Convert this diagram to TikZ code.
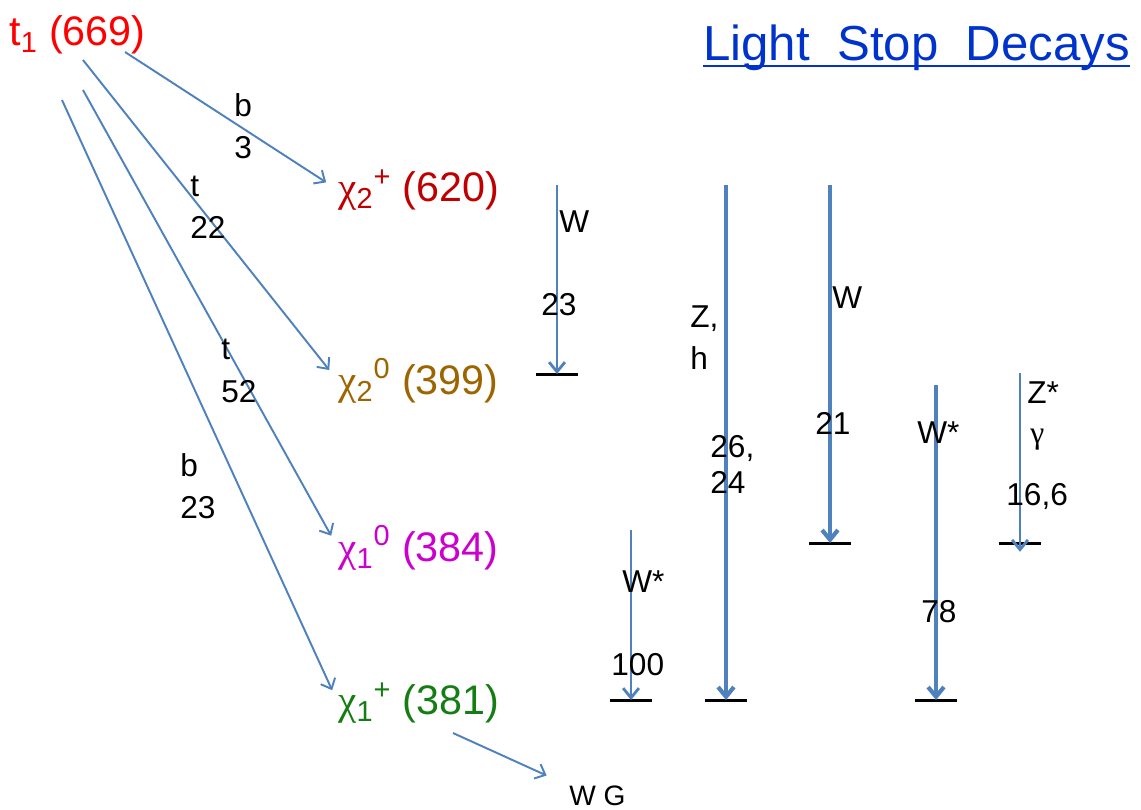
\documentclass[tikz,border=0pt]{standalone}
\usepackage{fontspec}
\setmainfont{Liberation Sans}
\newfontfamily\greekserif{Liberation Serif}
\usetikzlibrary{arrows.meta}

\definecolor{stopred}{RGB}{255,0,0}
\definecolor{charginotwo}{RGB}{192,0,0}
\definecolor{neutralinotwo}{RGB}{156,101,0}
\definecolor{neutralinoone}{RGB}{204,0,204}
\definecolor{charginoone}{RGB}{20,125,20}
\definecolor{decayblue}{RGB}{79,129,189}
\definecolor{titleblue}{RGB}{0,51,204}

\newcommand{\chisym}{{\greekserif χ}}

\begin{document}
\begin{tikzpicture}[
            x=0.02cm, y=-0.02cm,
            particle/.style={anchor=west, inner sep=0pt, font=\fontsize{23.5}{28}\selectfont},
            br/.style={anchor=west, inner sep=0pt, align=left, font=\fontsize{18}{24}\selectfont},
            decay/.style={draw=decayblue, line width=1.1pt, -{Straight Barb[length=5pt,width=9pt]}, shorten >=8pt},
            cascade/.style={draw=decayblue, line width=#1, -{Straight Barb[length=5.5pt,width=9pt]}},
            cascade/.default=2.4pt,
            level/.style={draw, line width=1.7pt}
        ]
            \useasboundingbox (0,0) rectangle (1141,809);

            \node[anchor=base west, inner sep=0pt, text=titleblue, font=\fontsize{28}{32}\selectfont] (title) at (703,60) {Light\ \ Stop\ \ Decays};
            \draw[titleblue, line width=1.2pt] ([yshift=-3.5pt]title.base west) -- ([yshift=-3.5pt]title.base east);

            \node[particle, text=stopred] (stop) at (9,35) {t\textsubscript{1} (669)};
            \node[particle, text=charginotwo] (chiTwoP) at (338,190) {\chisym\textsubscript{2}\textsuperscript{+} (620)};
            \node[particle, text=neutralinotwo] (chiTwoN) at (338,381) {\chisym\textsubscript{2}\textsuperscript{0} (399)};
            \node[particle, text=neutralinoone] (chiOneN) at (338,548) {\chisym\textsubscript{1}\textsuperscript{0} (384)};
            \node[particle, text=charginoone] (chiOneP) at (338,703) {\chisym\textsubscript{1}\textsuperscript{+} (381)};
            \node[anchor=west, inner sep=0pt, font=\fontsize{16}{18}\selectfont] (wg) at (569,796) {W G};

            % stop decays
            \coordinate (fromA) at (125,52);
            \coordinate (fromB) at (83,60);
            \coordinate (fromC) at (83,90);
            \coordinate (fromD) at (62,100);
            \coordinate (fromE) at (453,733);

            \draw[decay] (fromA) -- (chiTwoP.west);
            \draw[decay] (fromB) -- (chiTwoN.west);
            \draw[decay] (fromC) -- (chiOneN.west);
            \draw[decay] (fromD) -- (chiOneP.west);
            \draw[decay, shorten >=14pt] (fromE) -- (wg.north west);

            \node[br] (brA) at (234,126) {b\\3};
            \node[br] (brB) at (190,207) {t\\22};
            \node[br] (brC) at (221,371) {t\\52};
            \node[br] (brD) at (180,486) {b\\23};

            % cascades
            \coordinate (topA) at (557,185);
            \coordinate (topB) at (726,185);
            \coordinate (topC) at (830,185);
            \coordinate (topD) at (936,385);
            \coordinate (topE) at (1020,373);
            \coordinate (topF) at (631,530);

            \coordinate (lvA) at (557,374);
            \coordinate (lvB) at (726,700);
            \coordinate (lvC) at (830,543);
            \coordinate (lvD) at (936,700);
            \coordinate (lvE) at (1020,543);
            \coordinate (lvF) at (631,700);

            \foreach \lv in {lvA,lvB,lvC,lvD,lvE,lvF}
                \draw[level] (\lv) +(-21,0) -- +(21,0);

            \draw[cascade=1.6pt] (topA) -- (lvA);
            \draw[cascade] (topB) -- (lvB);
            \draw[cascade] (topC) -- (lvC);
            \draw[cascade] (topD) -- (lvD);
            \draw[cascade=1.6pt, shorten >=-5pt] (topE) -- (lvE);
            \draw[cascade=1.6pt] (topF) -- (lvF);

            \node[br] (wA) at (559,222) {W};
            \node[br] (nA) at (541,305) {23};
            \node[br] (zB) at (690,338) {Z,\\h};
            \node[br, font=\fontsize{18}{20.5}\selectfont] (nB) at (710,464) {26,\\24};
            \node[br] (wC) at (832,298) {W};
            \node[br] (nC) at (815,423) {21};
            \node[br] (wD) at (917,433) {W*};
            \node[br] (nD) at (921,612) {78};
            \node[br] (zE) at (1027,393) {Z*};
            \node[br, font=\greekserif\fontsize{18}{24}\selectfont] (gE) at (1030,440) {γ};
            \node[br] (nE) at (1006,496) {16,6};
            \node[br] (wF) at (622,582) {W*};
            \node[br] (nF) at (611,665) {100};

        \end{tikzpicture}
\end{document}
